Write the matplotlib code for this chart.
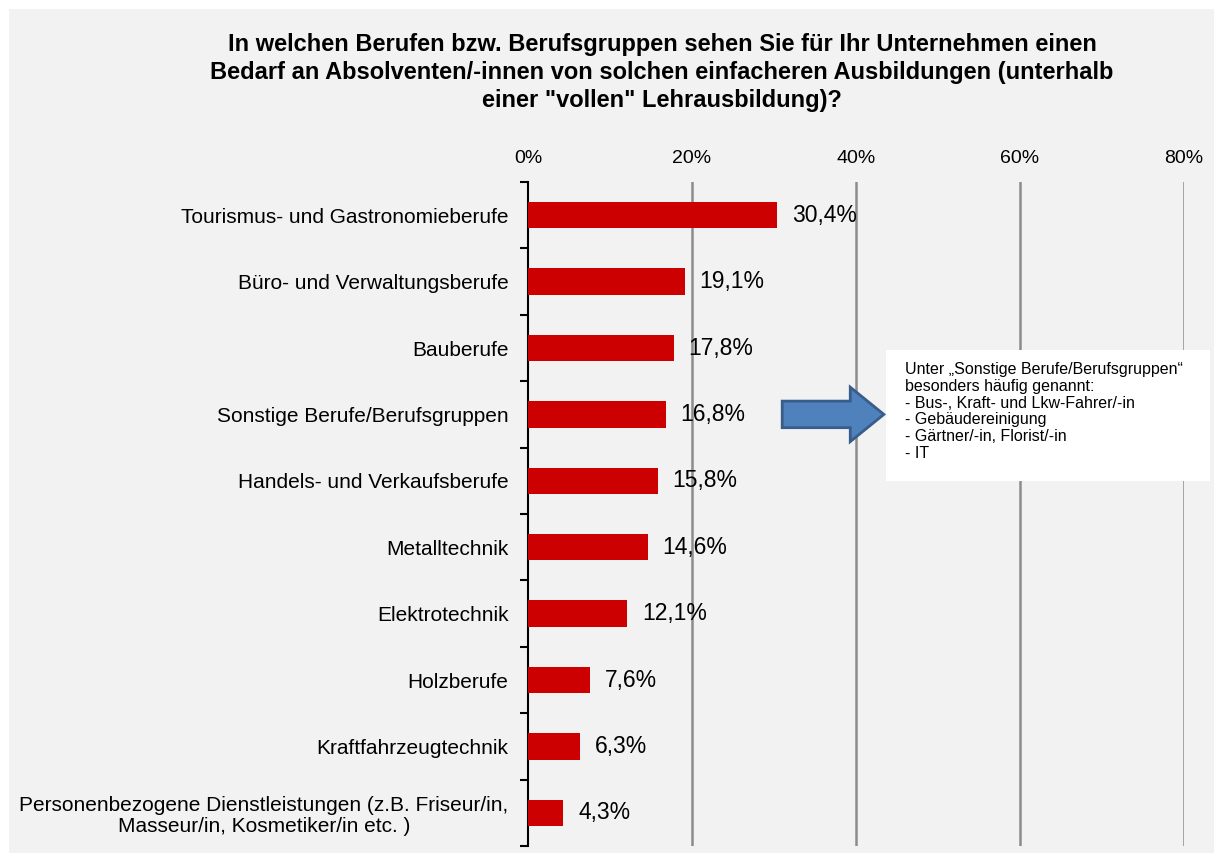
import matplotlib.pyplot as plt
from matplotlib.patches import Rectangle, Polygon
import numpy as np

plt.rcParams['font.family'] = ['Liberation Sans', 'DejaVu Sans']

categories = [
    "Tourismus- und Gastronomieberufe",
    "Büro- und Verwaltungsberufe",
    "Bauberufe",
    "Sonstige Berufe/Berufsgruppen",
    "Handels- und Verkaufsberufe",
    "Metalltechnik",
    "Elektrotechnik",
    "Holzberufe",
    "Kraftfahrzeugtechnik",
    "Personenbezogene Dienstleistungen (z.B. Friseur/in,\nMasseur/in, Kosmetiker/in etc. )",
]
values = [30.4, 19.1, 17.8, 16.8, 15.8, 14.6, 12.1, 7.6, 6.3, 4.3]
xticks = [0, 20, 40, 60, 80]
xtick_labels = ["0%", "20%", "40%", "60%", "80%"]

title = ('In welchen Berufen bzw. Berufsgruppen sehen Sie für Ihr Unternehmen einen\n'
         'Bedarf an Absolventen/-innen von solchen einfacheren Ausbildungen (unterhalb\n'
         'einer "vollen" Lehrausbildung)?')
note = ('Unter „Sonstige Berufe/Berufsgruppen“\nbesonders häufig genannt:\n'
        '- Bus-, Kraft- und Lkw-Fahrer/-in\n- Gebäudereinigung\n'
        '- Gärtner/-in, Florist/-in\n- IT')

W, H = 1214, 863
fig = plt.figure(figsize=(W / 100, H / 100), dpi=100)
fig.patch.set_facecolor('white')
fig.patches.append(Rectangle((9 / W, 10 / H), (W - 9) / W, (H - 19) / H,
                             transform=fig.transFigure, facecolor='#f2f2f2',
                             edgecolor='none', zorder=-10))

ax = fig.add_axes([528 / W, 1 - 846 / H, (1184 - 528) / W, (846 - 182) / H])
ax.set_facecolor('none')

y = np.arange(len(categories))
ax.barh(y, values, height=0.4, color='#cc0000', zorder=3)
for yi, v in zip(y, values):
    ax.text(v + 1.8, yi, f"{v:.1f}%".replace('.', ','), va='center', ha='left',
            fontsize=16.5, zorder=4)

ax.set_xlim(0, 80)
ax.set_ylim(len(categories) - 0.5, -0.5)
ax.xaxis.tick_top()
ax.set_xticks(xticks)
ax.set_xticklabels(xtick_labels, fontsize=14)
ax.tick_params(axis='x', length=0, pad=11)
for xv in xticks[1:]:
    ax.axvline(xv, color='#8c8c8c', linewidth=1.8, zorder=1)

ax.set_yticks(y)
ax.set_yticklabels(categories, fontsize=15, linespacing=1.15)
for lbl in ax.get_yticklabels():
    lbl.set_multialignment('center')
ax.set_yticks(np.arange(len(categories) + 1) - 0.5, minor=True)
ax.tick_params(axis='y', which='major', length=0, pad=14)
ax.tick_params(axis='y', which='minor', length=6, width=1.5, direction='out')

for s in ['top', 'right', 'bottom']:
    ax.spines[s].set_visible(False)
ax.spines['left'].set_linewidth(1.5)

fig.text(662 / W, 1 - 33 / H, title, ha='center', va='top', fontsize=17,
         fontweight='bold', linespacing=1.28)

# arrow pointing to the note box
arrow = Polygon([(31, 3 - 0.2), (39.3, 3 - 0.2), (39.3, 3 - 0.41), (43.4, 3),
                 (39.3, 3 + 0.41), (39.3, 3 + 0.2), (31, 3 + 0.2)],
                closed=True, facecolor='#4f81bd', edgecolor='#385d8a',
                linewidth=2, zorder=5)
ax.add_patch(arrow)

fig.patches.append(Rectangle((886 / W, 1 - 481 / H), (1210 - 886) / W, (481 - 350) / H,
                             transform=fig.transFigure, facecolor='white',
                             edgecolor='none', zorder=6))
fig.text(905 / W, 1 - 362 / H, note, ha='left', va='top', fontsize=11.5,
         linespacing=1.15, zorder=7)

fig.savefig('out.png', dpi=100)
